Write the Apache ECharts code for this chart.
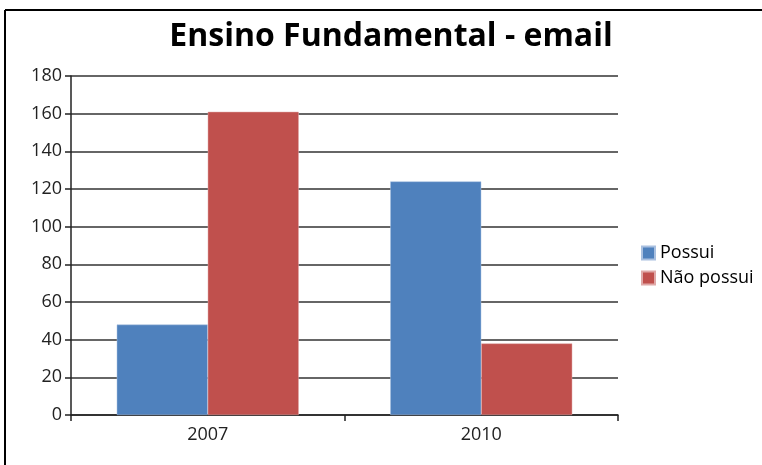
<!DOCTYPE html>
<html><head><meta charset="utf-8">
<script src="https://cdn.jsdelivr.net/npm/echarts@6/dist/echarts.min.js"></script>
<style>html,body{margin:0;padding:0;background:#fff}#c{width:762px;height:465px}</style>
</head><body><div id="c"></div>
<script>
const categories = ['2007', '2010'];
const possui = [48, 124];
const naoPossui = [161, 38];
const yTicks = [0, 20, 40, 60, 80, 100, 120, 140, 160, 180];

const chart = echarts.init(document.getElementById('c'), null, {renderer: 'canvas'});
const font = 'Open Sans';
chart.setOption({
  animation: false,
  backgroundColor: '#fff',
  title: {
    text: 'Ensino Fundamental - email',
    left: 386, textAlign: 'center', top: 16,
    textStyle: {fontFamily: font, fontWeight: 'bold', fontSize: 32, color: '#000'}
  },
  graphic: [
    {type: 'line', shape: {x1: 5, y1: 10, x2: 762, y2: 10}, style: {stroke: '#000', lineWidth: 2}},
    {type: 'line', shape: {x1: 5, y1: 10, x2: 5, y2: 465}, style: {stroke: '#000', lineWidth: 2}}
  ],
  legend: {
    orient: 'vertical', left: 636, top: 239, itemWidth: 13, itemHeight: 13, itemGap: 7,
    icon: 'rect',
    textStyle: {fontFamily: font, fontSize: 18, color: '#000'},
    data: ['Possui', 'Não possui']
  },
  grid: {left: 71, right: 144, top: 76, bottom: 50},
  xAxis: {
    type: 'category', data: categories,
    axisLine: {lineStyle: {color: '#222', width: 1.5}},
    axisTick: {show: true, length: 6, lineStyle: {color: '#222', width: 1.5}},
    axisLabel: {fontFamily: font, fontSize: 18, color: '#222', margin: 11}
  },
  yAxis: {
    type: 'value', min: 0, max: 180, interval: 20,
    axisLine: {show: true, lineStyle: {color: '#222', width: 1.5}},
    axisTick: {show: true, length: 6, lineStyle: {color: '#222', width: 1.5}},
    splitLine: {lineStyle: {color: '#333', width: 1.5}},
    axisLabel: {fontFamily: font, fontSize: 18, color: '#222', margin: 9,
      formatter: v => yTicks.includes(v) ? String(v) : ''}
  },
  series: [
    {name: 'Possui', type: 'bar', data: possui, barWidth: 91, barGap: '0%',
      itemStyle: {color: '#4F81BD', borderColor: '#a9c0e0', borderWidth: 0.5}},
    {name: 'Não possui', type: 'bar', data: naoPossui, barWidth: 91, barGap: '0%',
      itemStyle: {color: '#C0504D', borderColor: '#e0a9a8', borderWidth: 0.5}}
  ]
});
</script></body></html>
